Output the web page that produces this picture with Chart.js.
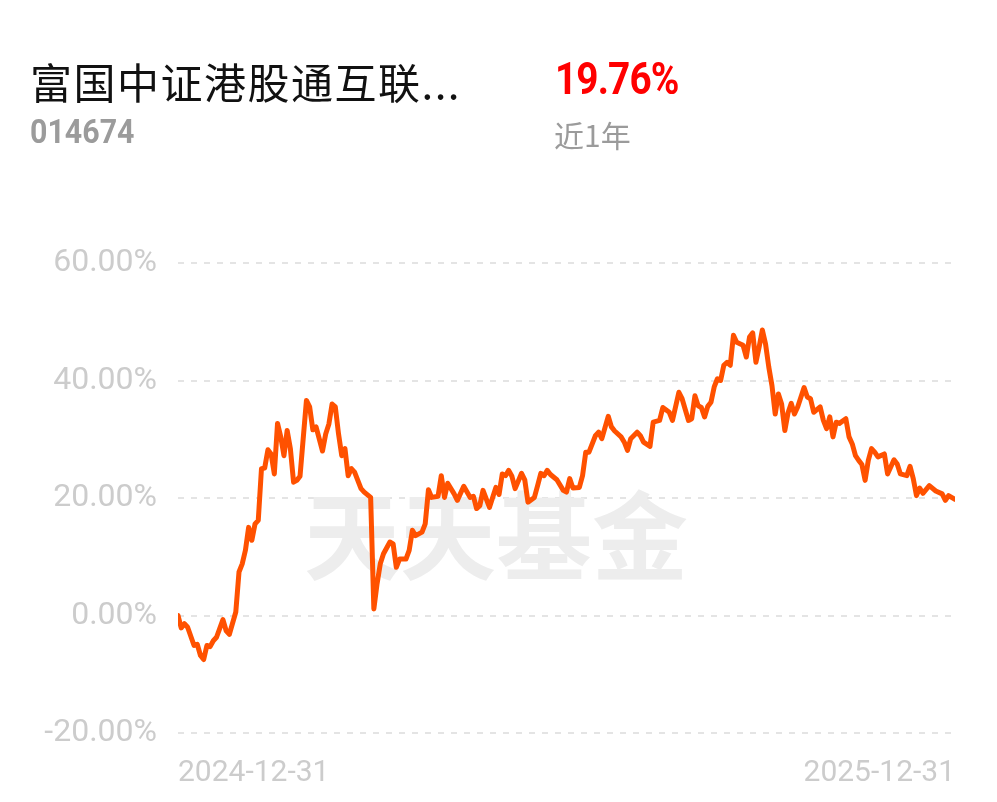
<!DOCTYPE html>
<html>
<head>
<meta charset="utf-8">
<script src="https://cdn.jsdelivr.net/npm/chart.js@4.4.1/dist/chart.umd.min.js"></script>
<style>
  html, body { margin: 0; padding: 0; background: #fff; }
  #wrap { position: relative; width: 997px; height: 802px; overflow: hidden; }
  #chart { position: absolute; left: 0; top: 0; }
  .txt { position: absolute; white-space: nowrap; }
  #title { left: 30px; top: 50px; font: 42px "Noto Sans CJK SC", sans-serif; color: #111; letter-spacing: 1.5px; }
  #code { left: 30px; top: 112px; font: bold 33px Roboto, sans-serif; color: #9b9b9b; transform: scaleX(0.92); transform-origin: left; }
  #ret { left: 555px; top: 52px; font: bold 45px Roboto, sans-serif; color: #f00; transform: scaleX(0.86); transform-origin: left; letter-spacing: -1px; }
  #period { left: 554px; top: 112px; font: 30px "Noto Sans CJK SC", sans-serif; color: #9b9b9b; }
</style>
</head>
<body>
<div id="wrap">
  <canvas id="chart" width="997" height="802"></canvas>
  <div class="txt" id="title">富国中证港股通互联...</div>
  <div class="txt" id="code">014674</div>
  <div class="txt" id="ret">19.76%</div>
  <div class="txt" id="period">近1年</div>
</div>
<script>
// trading-day index since 2024-12-31 and cumulative return (%)
const days = [0,1,2,3,5,6,7,8,9,10,11,12,14,15,16,18,19,20,21,22,23,24,25,26,27,28,29,30,31,32,33,34,35,36,37,38,40,41,42,43,45,46,47,48,49,50,51,52,53,54,55,57,58,60,
  61,62,63,64,66,67,68,69,71,72,73,74,76,77,78,79,81,82,83,84,86,87,89,91,92,93,94,95,97,98,99,100,101,102,103,104,105,107,108,109,111,112,113,114,115,116,118,120,
  121,122,123,125,126,127,128,130,131,132,134,135,136,138,139,140,141,143,144,145,147,148,150,151,153,154,156,157,159,160,161,162,163,164,165,166,167,168,169,170,171,172,173,174,176,177,178,179,180,
  181,182,183,184,185,186,187,188,189,190,191,192,193,195,196,197,198,200,201,202,203,204,205,206,208,209,210,211,212,213,214,215,216,217,218,220,221,223,224,225,227,228,229,230,231,232,234,236,238,239,240,242];
const returns = [0,-2.1,-1.4,-2.0,-5.1,-4.9,-6.8,-7.5,-5.1,-5.3,-4.3,-3.7,-0.7,-2.6,-3.2,0.6,7.4,8.8,11.1,15.0,12.8,15.6,16.2,25.0,25.1,28.2,27.5,24.1,32.7,30.4,27.2,31.5,28.4,22.7,23.0,23.7,36.6,35.5,31.6,32.1,28.0,30.9,32.6,36.0,35.5,30.9,27.2,28.4,23.8,25.0,24.4,21.6,21.0,20.1,
  1.1,5.4,8.8,10.5,12.5,12.2,8.2,9.6,9.6,11.1,14.5,13.6,14.2,15.6,21.4,20.1,20.3,23.8,20.1,22.5,20.7,19.6,22.0,20.1,20.3,18.2,18.7,21.3,18.4,20.1,21.8,20.6,24.1,23.8,24.7,23.7,21.6,24.2,23.1,19.3,20.1,22.1,24.2,23.8,24.7,24.0,23.1,21.3,
  21.0,23.3,21.7,21.8,23.8,27.8,27.8,30.6,31.2,30.1,33.9,32.1,31.4,30.4,29.5,28.1,30.1,31.2,30.6,29.5,28.8,32.9,33.2,35.4,34.6,33.2,38.0,36.9,33.2,33.5,37.4,35.7,35.4,33.8,35.6,36.3,38.9,40.3,40.0,42.6,43.1,42.6,47.7,46.5,46.0,44.0,47.4,48.1,43.1,
  45.7,48.6,46.2,42.3,39.1,34.3,37.7,36.0,31.5,34.5,36.1,34.3,35.5,38.8,37.2,36.9,34.6,35.5,33.2,31.8,33.8,30.4,32.9,32.7,33.5,30.4,29.2,27.2,26.4,25.7,23.0,26.4,28.4,27.8,27.0,27.5,24.1,26.5,25.8,24.1,23.8,25.4,23.3,20.4,21.7,20.8,22.1,21.2,20.7,19.6,20.4,19.76];
const dateLabels = ["2024-12-31", "2025-12-31"];
const yTicks = [-20, 0, 20, 40, 60];

const lastDay = days[days.length - 1];

// watermark behind the line
const watermark = {
  id: "watermark",
  beforeDatasetsDraw(chart) {
    const c = chart.ctx;
    c.save();
    c.font = "bold 96px 'Noto Sans CJK SC'";
    c.fillStyle = "#ededed";
    c.textAlign = "center";
    c.textBaseline = "middle";
    c.fillText("天天基金", 496, 536);
    c.restore();
  }
};

new Chart(document.getElementById("chart"), {
  type: "line",
  data: {
    datasets: [{
      data: days.map((d, i) => ({ x: d, y: returns[i] })),
      borderColor: "#ff5100",
      borderWidth: 5,
      borderJoinStyle: "round",
      borderCapStyle: "round",
      pointRadius: 0,
      tension: 0,
      fill: false
    }]
  },
  options: {
    responsive: false,
    animation: false,
    layout: { padding: { top: 263, right: 42, left: 0, bottom: 0 } },
    plugins: { legend: { display: false }, tooltip: { enabled: false } },
    scales: {
      x: {
        type: "linear",
        min: 0,
        max: lastDay,
        grid: { display: false, drawTicks: false },
        border: { display: false },
        afterFit: s => { s.height = 69; },
        afterBuildTicks: s => { s.ticks = [{ value: 0 }, { value: lastDay }]; },
        ticks: {
          align: "inner",
          padding: 22,
          maxRotation: 0,
          color: "#cccccc",
          font: { family: "Roboto", size: 30 },
          callback: v => v === 0 ? dateLabels[0] : dateLabels[1]
        }
      },
      y: {
        min: yTicks[0],
        max: yTicks[yTicks.length - 1],
        afterFit: s => { s.width = 178; },
        afterBuildTicks: s => { s.ticks = yTicks.map(v => ({ value: v })); },
        grid: { color: "#e4e4e4", lineWidth: 2, drawTicks: false },
        border: { display: false, dash: [6, 7] },
        ticks: {
          padding: 21,
          color: "#cccccc",
          font: { family: "Roboto", size: 32 },
          callback: v => v.toFixed(2) + "%"
        }
      }
    }
  },
  plugins: [watermark]
});
</script>
</body>
</html>
